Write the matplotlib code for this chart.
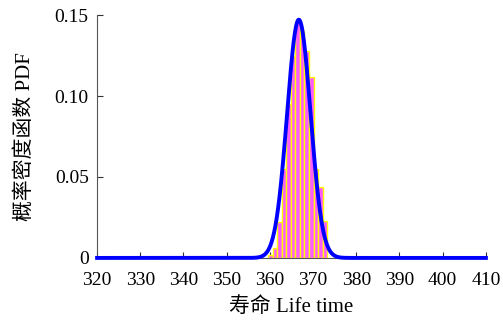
import numpy as np
import matplotlib
matplotlib.use("Agg")
import matplotlib.pyplot as plt

plt.rcParams['font.family'] = ['Liberation Serif', 'Noto Sans CJK SC']

# 直方图：区间边界与概率密度
bin_edges = [359.6, 360.65, 361.7, 362.76, 363.8, 364.87, 365.9, 366.98,
             368.0, 369.1, 370.1, 371.2, 372.25, 373.3]
bin_density = [0.002, 0.006, 0.022, 0.055, 0.095, 0.125, 0.146,
               0.140, 0.128, 0.112, 0.055, 0.044, 0.023]

# 拟合正态分布参数（从图中估计）
fit_mu = 366.7
fit_sigma = 2.71

x_ticks = [320, 330, 340, 350, 360, 370, 380, 390, 400, 410]
y_ticks = [0, 0.05, 0.10, 0.15]
y_tick_labels = ["0", "0.05", "0.10", "0.15"]

fig = plt.figure(figsize=(5.03, 3.22), dpi=100)
ax = fig.add_axes([0.193, 0.199, 0.773, 0.754])

widths = np.diff(bin_edges)
ax.bar(bin_edges[:-1], bin_density, width=widths, align="edge",
       color="#ff5cff", edgecolor="#ffff00", linewidth=1.0, zorder=2)

xs = np.linspace(320, 410, 1000)
pdf = np.exp(-0.5 * ((xs - fit_mu) / fit_sigma) ** 2) / (fit_sigma * np.sqrt(2 * np.pi))
ax.plot(xs, pdf, color="#0000ff", linewidth=2.8, zorder=3, clip_on=False)

ax.set_xlim(320, 410)
ax.set_ylim(0, 0.15)
ax.set_xticks(x_ticks)
ax.set_yticks(y_ticks)
ax.set_yticklabels(y_tick_labels)
ax.tick_params(direction="in", length=4, labelsize=14, colors="#333333",
               labelcolor="black")
ax.tick_params(axis="x", pad=10)
ax.tick_params(axis="y", pad=6)

for side in ["top", "right"]:
    ax.spines[side].set_visible(False)
for side in ["left", "bottom"]:
    ax.spines[side].set_color("#555555")
    ax.spines[side].set_linewidth(0.8)

ax.set_xlabel("寿命 Life time", fontsize=15, labelpad=6)
ax.set_ylabel("概率密度函数 PDF", fontsize=15, labelpad=14)

fig.savefig("out.png", dpi=100)
